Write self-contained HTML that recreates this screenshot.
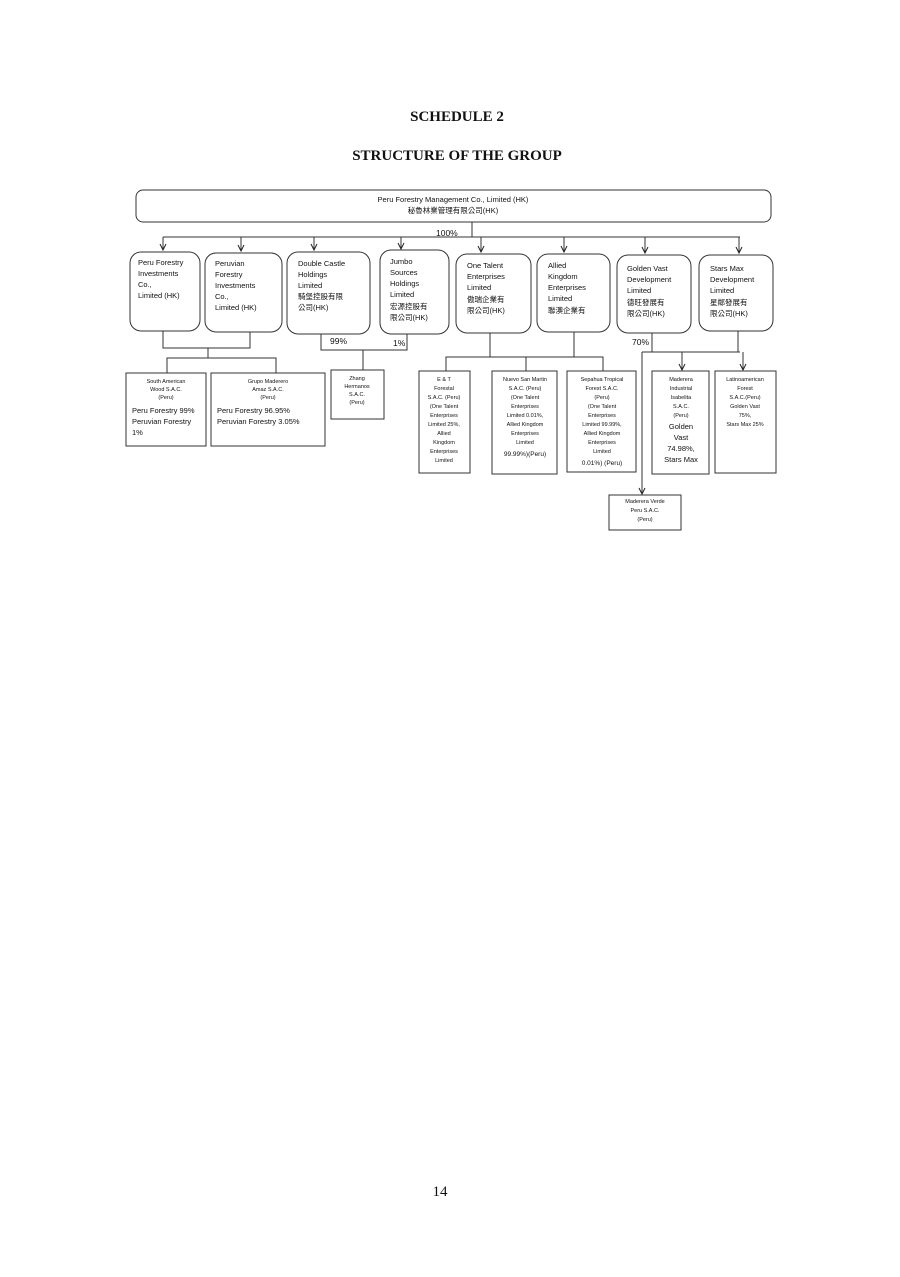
<!DOCTYPE html>
<html><head><meta charset="utf-8"><style>
html,body{margin:0;padding:0;background:#fff;}
svg{display:block;}
.t{font-family:"Liberation Sans","Noto Sans CJK TC",sans-serif;fill:#111;}
.s{font-family:"Liberation Serif",serif;font-weight:bold;fill:#111;}
</style></head><body>
<svg width="900" height="1277" viewBox="0 0 900 1277" xmlns="http://www.w3.org/2000/svg">
<defs><marker id="a" markerWidth="10" markerHeight="10" refX="7" refY="4" orient="auto" markerUnits="userSpaceOnUse"><path d="M1,1 L7,4 L1,7" fill="none" stroke="#222" stroke-width="1"/></marker></defs>
<text class="s" x="457" y="121" font-size="15" text-anchor="middle">SCHEDULE 2</text>
<text class="s" x="457" y="160" font-size="15" text-anchor="middle">STRUCTURE OF THE GROUP</text>
<text x="440" y="1196" font-family="Liberation Serif,serif" font-size="15" text-anchor="middle" fill="#111">14</text>

<g fill="none" stroke="#333" stroke-width="1">
<rect x="136" y="190" width="635" height="32" rx="7"/>
<path d="M472 222 V237 M163 237 H740"/>
<path d="M163 237 V250" marker-end="url(#a)"/>
<path d="M241 237 V251" marker-end="url(#a)"/>
<path d="M314 237 V250" marker-end="url(#a)"/>
<path d="M401 237 V249" marker-end="url(#a)"/>
<path d="M481 237 V252" marker-end="url(#a)"/>
<path d="M564 237 V252" marker-end="url(#a)"/>
<path d="M645 237 V253" marker-end="url(#a)"/>
<path d="M739 237 V253" marker-end="url(#a)"/>
<rect x="130" y="252" width="70" height="79" rx="11"/>
<rect x="205" y="253" width="77" height="79" rx="11"/>
<rect x="287" y="252" width="83" height="82" rx="11"/>
<rect x="380" y="250" width="69" height="84" rx="11"/>
<rect x="456" y="254" width="75" height="79" rx="11"/>
<rect x="537" y="254" width="73" height="78" rx="11"/>
<rect x="617" y="255" width="74" height="78" rx="11"/>
<rect x="699" y="255" width="74" height="76" rx="11"/>
<path d="M163 331 V348 H250 V332 M208 348 V358 M167 373 V358 H276 V373"/>
<path d="M321 334 V350 H407 V334 M363 350 V370"/>
<path d="M490 333 V357 M574 332 V357 M446 371 V357 H603 V371 M526 357 V371"/>
<path d="M652 333 V352 M738 331 V352 M642 352 H740"/>
<path d="M682 352 V370" marker-end="url(#a)"/>
<path d="M743 352 V370" marker-end="url(#a)"/>
<path d="M642 352 V494" marker-end="url(#a)"/>
<rect x="126" y="373" width="80" height="73"/>
<rect x="211" y="373" width="114" height="73"/>
<rect x="331" y="370" width="53" height="49"/>
<rect x="419" y="371" width="51" height="102"/>
<rect x="492" y="371" width="65" height="103"/>
<rect x="567" y="371" width="69" height="101"/>
<rect x="652" y="371" width="57" height="103"/>
<rect x="715" y="371" width="61" height="102"/>
<rect x="609" y="495" width="72" height="35"/>
</g>

<g class="t" font-size="7.5">
<text x="453" y="202" text-anchor="middle">Peru Forestry Management Co., Limited (HK)</text>
<text x="453" y="213" text-anchor="middle">秘魯林業管理有限公司(HK)</text>
<text x="436" y="236" font-size="8.5">100%</text>
<text x="330" y="344" font-size="8.5">99%</text>
<text x="393" y="346" font-size="8.5">1%</text>
<text x="632" y="345" font-size="8.5">70%</text>
</g>
<g class="t" font-size="7.5">
<text x="138" y="265">Peru Forestry</text><text x="138" y="276">Investments</text><text x="138" y="287">Co.,</text><text x="138" y="298">Limited (HK)</text>
<text x="215" y="266">Peruvian</text><text x="215" y="277">Forestry</text><text x="215" y="288">Investments</text><text x="215" y="299">Co.,</text><text x="215" y="310">Limited (HK)</text>
<text x="298" y="266">Double Castle</text><text x="298" y="277">Holdings</text><text x="298" y="288">Limited</text><text x="298" y="299">騎堡控股有限</text><text x="298" y="310">公司(HK)</text>
<text x="390" y="264">Jumbo</text><text x="390" y="275">Sources</text><text x="390" y="286">Holdings</text><text x="390" y="297">Limited</text><text x="390" y="309">宏源控股有</text><text x="390" y="320">限公司(HK)</text>
<text x="467" y="268">One Talent</text><text x="467" y="279">Enterprises</text><text x="467" y="290">Limited</text><text x="467" y="302">傲瑞企業有</text><text x="467" y="313">限公司(HK)</text>
<text x="548" y="268">Allied</text><text x="548" y="279">Kingdom</text><text x="548" y="290">Enterprises</text><text x="548" y="301">Limited</text><text x="548" y="313">聯澳企業有</text>
<text x="627" y="271">Golden Vast</text><text x="627" y="282">Development</text><text x="627" y="293">Limited</text><text x="627" y="305">德旺發展有</text><text x="627" y="316">限公司(HK)</text>
<text x="710" y="271">Stars Max</text><text x="710" y="282">Development</text><text x="710" y="293">Limited</text><text x="710" y="305">星鄰發展有</text><text x="710" y="316">限公司(HK)</text>
</g>
<g class="t" font-size="5.5" text-anchor="middle">
<text x="166" y="383">South American</text><text x="166" y="391">Wood S.A.C.</text><text x="166" y="399">(Peru)</text>
<text x="268" y="383">Grupo Maderero</text><text x="268" y="391">Amaz S.A.C.</text><text x="268" y="399">(Peru)</text>
<text x="357" y="380">Zhang</text><text x="357" y="388">Hermanos</text><text x="357" y="396">S.A.C.</text><text x="357" y="404">(Peru)</text>
<text x="444" y="381">E &amp; T</text><text x="444" y="390">Forestal</text><text x="444" y="399">S.A.C. (Peru)</text><text x="444" y="408">(One Talent</text><text x="444" y="417">Enterprises</text><text x="444" y="426">Limited 25%,</text><text x="444" y="435">Allied</text><text x="444" y="444">Kingdom</text><text x="444" y="453">Enterprises</text><text x="444" y="462">Limited</text>
<text x="525" y="381">Nuevo San Martin</text><text x="525" y="390">S.A.C. (Peru)</text><text x="525" y="399">(One Talent</text><text x="525" y="408">Enterprises</text><text x="525" y="417">Limited 0.01%,</text><text x="525" y="426">Allied Kingdom</text><text x="525" y="435">Enterprises</text><text x="525" y="444">Limited</text><text x="525" y="456" font-size="6.5">99.99%)(Peru)</text>
<text x="602" y="381">Sepahua Tropical</text><text x="602" y="390">Forest S.A.C.</text><text x="602" y="399">(Peru)</text><text x="602" y="408">(One Talent</text><text x="602" y="417">Enterprises</text><text x="602" y="426">Limited 99.99%,</text><text x="602" y="435">Allied Kingdom</text><text x="602" y="444">Enterprises</text><text x="602" y="453">Limited</text><text x="602" y="465" font-size="6.5">0.01%) (Peru)</text>
<text x="681" y="381">Maderera</text><text x="681" y="390">Industrial</text><text x="681" y="399">Isabelita</text><text x="681" y="408">S.A.C.</text><text x="681" y="417">(Peru)</text>
<text x="681" y="429" font-size="7.5">Golden</text><text x="681" y="440" font-size="7.5">Vast</text><text x="681" y="451" font-size="7.5">74.98%,</text><text x="681" y="462" font-size="7.5">Stars Max</text>
<text x="745" y="381">Latinoamerican</text><text x="745" y="390">Forest</text><text x="745" y="399">S.A.C.(Peru)</text><text x="745" y="408">Golden Vast</text><text x="745" y="417">75%,</text><text x="745" y="426">Stars Max 25%</text>
<text x="645" y="503">Maderera Verde</text><text x="645" y="512">Peru S.A.C.</text><text x="645" y="521">(Peru)</text>
</g>
<g class="t" font-size="7.5">
<text x="132" y="413">Peru Forestry 99%</text><text x="132" y="424">Peruvian Forestry</text><text x="132" y="435">1%</text>
<text x="217" y="413">Peru Forestry 96.95%</text><text x="217" y="424">Peruvian Forestry 3.05%</text>
</g>
</svg>
</body></html>
